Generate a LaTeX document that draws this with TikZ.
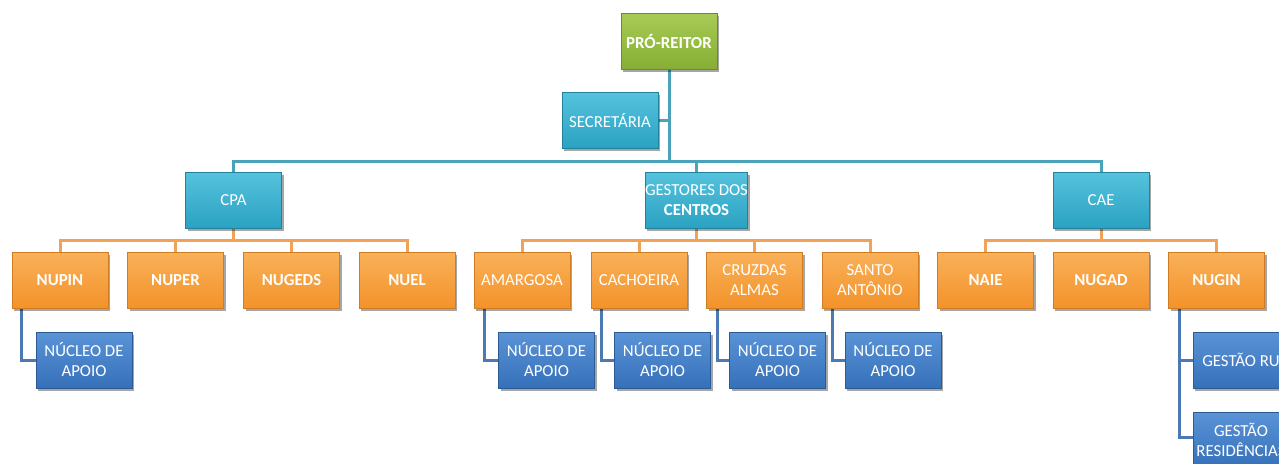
\documentclass[tikz,border=0pt]{standalone}
\usepackage{fontspec}
\setmainfont{Carlito}
\usetikzlibrary{shadows,backgrounds}
\definecolor{gbase}{HTML}{86AE34}
\definecolor{gtop}{HTML}{A8CB55}
\definecolor{cbase}{HTML}{2AA2C2}
\definecolor{ctop}{HTML}{55C2DD}
\definecolor{obase}{HTML}{F3922A}
\definecolor{otop}{HTML}{F9B159}
\definecolor{bbase}{HTML}{3670BA}
\definecolor{btop}{HTML}{5A93D6}
\definecolor{tline}{HTML}{4AA3B9}
\definecolor{oline}{HTML}{F1A257}
\definecolor{bline}{HTML}{4A79B4}
\tikzset{
  box/.style={rectangle, minimum width=48pt, minimum height=28pt, inner sep=0pt,
    align=center, text=white, font=\fontsize{8.4}{10}\selectfont, line width=0.5pt,
    drop shadow={shadow xshift=1.2pt, shadow yshift=-1.4pt, opacity=0.35, fill=black}},
  greenbox/.style={box, top color=gtop, bottom color=gbase, draw=gbase!80!black},
  cyanbox/.style={box, top color=ctop, bottom color=cbase, draw=cbase!80!black},
  orangebox/.style={box, top color=otop, bottom color=obase, draw=obase!85!black},
  bluebox/.style={box, top color=btop, bottom color=bbase, draw=bbase!80!black},
  tconn/.style={draw=tline, line width=1.5pt},
  oconn/.style={draw=oline, line width=1.5pt},
  bconn/.style={draw=bline, line width=1.5pt},
}
\begin{document}
\begin{tikzpicture}[x=0.5pt, y=-0.5pt]
\useasboundingbox (0,0) rectangle (1279,463);
\clip (0,0) rectangle (1279,463);
\coordinate (tbus) at (0,161);
\coordinate (obus) at (0,240);
% level 0-1
\node[greenbox] (pr) at (669,41) {\bfseries PRÓ-REITOR};
\node[cyanbox] (sec) at (610,120.5) {SECRETÁRIA};
\node[cyanbox] (cpa) at (233.5,200.5) {CPA};
\node[cyanbox] (ges) at (696.5,200.5) {GESTORES DOS\\\bfseries CENTROS};
\node[cyanbox] (cae) at (1101,200.5) {CAE};
% orange row
\node[orangebox] (nupin) at (60,280) {\bfseries NUPIN};
\node[orangebox] (nuper) at (175.5,280) {\bfseries NUPER};
\node[orangebox] (nugeds) at (291.5,280) {\bfseries NUGEDS};
\node[orangebox] (nuel) at (407,280) {\bfseries NUEL};
\node[orangebox] (ama) at (522,280) {AMARGOSA};
\node[orangebox] (cach) at (639,280) {CACHOEIRA};
\node[orangebox] (cruz) at (754.5,280) {CRUZDAS\\ALMAS};
\node[orangebox] (santo) at (870,280) {SANTO\\ANTÔNIO};
\node[orangebox] (naie) at (985.5,280) {\bfseries NAIE};
\node[orangebox] (nugad) at (1101,280) {\bfseries NUGAD};
\node[orangebox] (nugin) at (1216.5,280) {\bfseries NUGIN};
% blue row
\node[bluebox] (na1) at (84,360) {NÚCLEO DE\\APOIO};
\node[bluebox] (na2) at (546.5,360) {NÚCLEO DE\\APOIO};
\node[bluebox] (na3) at (662.5,360) {NÚCLEO DE\\APOIO};
\node[bluebox] (na4) at (777.5,360) {NÚCLEO DE\\APOIO};
\node[bluebox] (na5) at (893,360) {NÚCLEO DE\\APOIO};
\node[bluebox] (gru) at (1241,360) {GESTÃO RU};
\node[bluebox] (gres) at (1241,440) {GESTÃO\\RESIDÊNCIAS};
\begin{scope}[on background layer]
% teal connectors
\draw[tconn] (pr.south) -- (pr.south |- tbus);
\draw[tconn] (sec.east) -- (sec.east -| pr.south);
\draw[tconn] (cpa.north) -- (cpa.north |- tbus) -| (cae.north);
\draw[tconn] (ges.north) -- (ges.north |- tbus);
% orange connectors
\draw[oconn] (cpa.south) -- (cpa.south |- obus);
\draw[oconn] (nupin.north) -- (nupin.north |- obus) -| (nuel.north);
\draw[oconn] (nuper.north) -- (nuper.north |- obus);
\draw[oconn] (nugeds.north) -- (nugeds.north |- obus);
\draw[oconn] (ges.south) -- (ges.south |- obus);
\draw[oconn] (ama.north) -- (ama.north |- obus) -| (santo.north);
\draw[oconn] (cach.north) -- (cach.north |- obus);
\draw[oconn] (cruz.north) -- (cruz.north |- obus);
\draw[oconn] (cae.south) -- (cae.south |- obus);
\draw[oconn] (naie.north) -- (naie.north |- obus) -| (nugin.north);
% blue connectors
\draw[bconn] ([xshift=5pt]nupin.south west) |- (na1.west);
\draw[bconn] ([xshift=5.5pt]ama.south west) |- (na2.west);
\draw[bconn] ([xshift=5.5pt]cach.south west) |- (na3.west);
\draw[bconn] ([xshift=5.5pt]cruz.south west) |- (na4.west);
\draw[bconn] ([xshift=5.5pt]santo.south west) |- (na5.west);
\draw[bconn] ([xshift=5.5pt]nugin.south west) |- (gru.west);
\draw[bconn] ([xshift=5.5pt]nugin.south west) |- ([yshift=1.5pt]gres.west);
\end{scope}
\end{tikzpicture}
\end{document}
